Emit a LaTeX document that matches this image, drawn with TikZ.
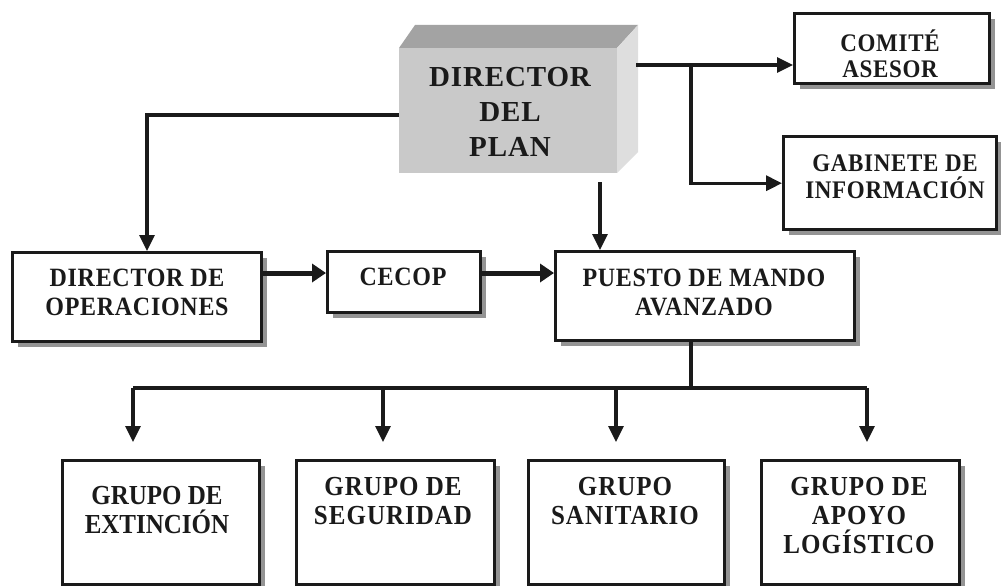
\documentclass[tikz,border=0pt]{standalone}
\usepackage{fontspec}
\setmainfont{Liberation Serif}
\newfontfamily\lsfont{Liberation Serif}[LetterSpace=3]
\newfontfamily\lsfontb{Liberation Serif}[LetterSpace=4]
\usetikzlibrary{arrows.meta,shadows}
\definecolor{frontc}{HTML}{C9C9C9}
\definecolor{topc}{HTML}{A3A3A3}
\definecolor{sidec}{HTML}{DEDEDE}
\definecolor{inkc}{HTML}{1A1A1A}
\newcommand\tallt[1]{\scalebox{1}[1.1]{#1}}
\begin{document}
\begin{tikzpicture}[x=1pt,y=-1pt,
  bx/.style={draw=inkc, line width=3.4pt, fill=white, inner sep=0pt, anchor=north west,
    drop shadow={shadow xshift=5pt, shadow yshift=-5pt, fill=black!42, opacity=1}},
  txt/.style={text=inkc, align=center, inner sep=0pt, font=\lsfont\bfseries\fontsize{24}{29}\selectfont},
  ln/.style={draw=inkc, line width=3.2pt},
  conn/.style={ln, -{Triangle[length=16pt,width=15pt]}},
  thk/.style={draw=inkc, line width=5pt, -{Triangle[length=14pt,width=18pt]}}]
\useasboundingbox (0,0) rectangle (1001,586);

% 3D box
\fill[topc] (399,48) -- (415,25) -- (638,25) -- (617,48) -- cycle;
\fill[sidec] (617,48) -- (638,25) -- (638,152) -- (617,173) -- cycle;
\node[fill=frontc, inner sep=0pt, minimum width=218pt, minimum height=125pt, anchor=north west] (dpl) at (399,48) {};
\node[txt, font=\lsfont\bfseries\fontsize{29}{35}\selectfont] (dplt) at (510,112) {DIRECTOR\\DEL\\PLAN};

% boxes
\node[bx, minimum width=249pt, minimum height=89pt] (dop) at (11,251) {};
\node[bx, minimum width=153pt, minimum height=61pt] (cecop) at (326,250) {};
\node[bx, minimum width=299pt, minimum height=89pt] (pma) at (554,250) {};
\node[bx, minimum width=195pt, minimum height=70pt] (com) at (793,12) {};
\node[bx, minimum width=213pt, minimum height=93pt] (gab) at (782,135) {};
\node[bx, minimum width=197pt, minimum height=124pt] (g1) at (61,459) {};
\node[bx, minimum width=198pt, minimum height=124pt] (g2) at (295,459) {};
\node[bx, minimum width=196pt, minimum height=124pt] (g3) at (527,459) {};
\node[bx, minimum width=198pt, minimum height=124pt] (g4) at (760,459) {};

% texts
\node[txt] (dopt) at (137,292.5) {\tallt{DIRECTOR DE}\\\tallt{OPERACIONES}};
\node[txt] (cecopt) at (403,277) {\tallt{CECOP}};
\node[txt] (pmat) at (704,292.5) {\tallt{PUESTO DE MANDO}\\\tallt{AVANZADO}};
\node[txt, font=\lsfont\bfseries\fontsize{23}{26}\selectfont] (comt) at (890,54) {\tallt{COMITÉ}\\\tallt{ASESOR}};
\node[txt, font=\lsfont\bfseries\fontsize{23}{27}\selectfont] (gabt) at (895,176.5) {\tallt{GABINETE DE}\\\tallt{INFORMACIÓN}};
\node[txt, font=\bfseries\fontsize{25}{29}\selectfont] (g1t) at (157,510) {\tallt{GRUPO DE}\\\tallt{EXTINCIÓN}};
\node[txt, font=\lsfontb\bfseries\fontsize{25}{29}\selectfont] (g2t) at (393,501.5) {\tallt{GRUPO DE}\\\tallt{SEGURIDAD}};
\node[txt, font=\lsfontb\bfseries\fontsize{25}{29}\selectfont] (g3t) at (625,501.5) {\tallt{GRUPO}\\\tallt{SANITARIO}};
\node[txt, font=\lsfontb\bfseries\fontsize{25}{29}\selectfont] (g4t) at (859,516) {\tallt{GRUPO DE}\\\tallt{APOYO}\\\tallt{LOGÍSTICO}};

% connectors from top box
\coordinate (lw) at (147,115);
\draw[conn] (dpl.west |- lw) -- (lw) -- (lw |- dop.north);
\coordinate (dn) at (600,182);
\draw[conn] (dn) -- (dn |- pma.north);
\coordinate (re) at (636,65);
\coordinate (jn) at (691,65);
\draw[conn] (re) -- (re -| com.west);
\draw[conn] (jn) |- (gab.west);

% horizontal thick arrows
\coordinate (ay) at (0,273);
\draw[thk] (dop.east |- ay) -- (cecop.west |- ay);
\draw[thk] (cecop.east |- ay) -- (pma.west |- ay);

% bus to groups
\coordinate (bus) at (691,388);
\coordinate (d1) at (133,388);
\coordinate (d2) at (383,388);
\coordinate (d3) at (616,388);
\coordinate (d4) at (867,388);
\draw[ln] (bus |- pma.south) -- (bus);
\draw[ln] (d1) -- (d4);
\draw[conn, shorten >=17pt] (d1) -- (d1 |- g1.north);
\draw[conn, shorten >=17pt] (d2) -- (d2 |- g2.north);
\draw[conn, shorten >=17pt] (d3) -- (d3 |- g3.north);
\draw[conn, shorten >=17pt] (d4) -- (d4 |- g4.north);
\end{tikzpicture}
\end{document}
